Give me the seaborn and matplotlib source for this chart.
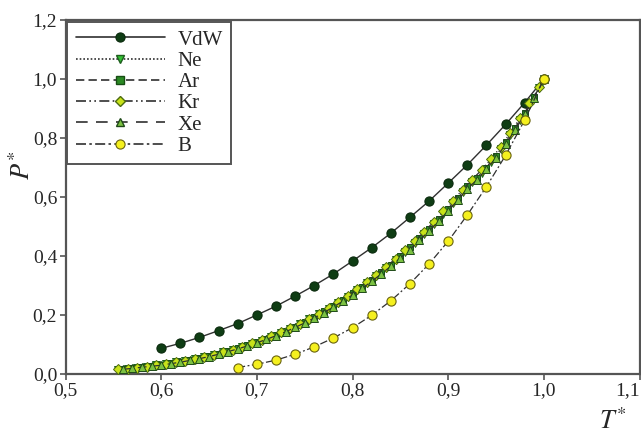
import numpy as np
import pandas as pd
import matplotlib
matplotlib.use("Agg")
import matplotlib.pyplot as plt
from matplotlib.lines import Line2D
from matplotlib.ticker import FuncFormatter
import seaborn as sns

# ---------------- data ----------------
vdw_T = [0.60, 0.62, 0.64, 0.66, 0.68, 0.70, 0.72, 0.74, 0.76, 0.78, 0.80,
         0.82, 0.84, 0.86, 0.88, 0.90, 0.92, 0.94, 0.96, 0.98, 1.00]
vdw_P = [0.087, 0.104, 0.124, 0.147, 0.171, 0.200, 0.230, 0.264, 0.300, 0.339, 0.383,
         0.428, 0.477, 0.531, 0.586, 0.647, 0.709, 0.776, 0.846, 0.920, 1.000]

half_T = [0.555, 0.565, 0.575, 0.585, 0.595, 0.605, 0.615, 0.625, 0.635, 0.645,
          0.655, 0.665, 0.675, 0.685, 0.695, 0.705, 0.715, 0.725, 0.735, 0.745,
          0.755, 0.765, 0.775, 0.785, 0.795, 0.805, 0.815, 0.825, 0.835, 0.845,
          0.855, 0.865, 0.875, 0.885, 0.895, 0.905, 0.915, 0.925, 0.935, 0.945,
          0.955, 0.965, 0.975, 0.985, 0.995, 1.000]
full_T = [0.56, 0.57, 0.58, 0.59, 0.60, 0.61, 0.62, 0.63, 0.64, 0.65,
          0.66, 0.67, 0.68, 0.69, 0.70, 0.71, 0.72, 0.73, 0.74, 0.75,
          0.76, 0.77, 0.78, 0.79, 0.80, 0.81, 0.82, 0.83, 0.84, 0.85,
          0.86, 0.87, 0.88, 0.89, 0.90, 0.91, 0.92, 0.93, 0.94, 0.95,
          0.96, 0.97, 0.98, 0.99, 1.00]

ne_P = [0.015, 0.018, 0.021, 0.025, 0.029, 0.034, 0.039, 0.044, 0.050, 0.057,
        0.065, 0.073, 0.082, 0.091, 0.102, 0.113, 0.126, 0.139, 0.153, 0.169,
        0.185, 0.202, 0.221, 0.241, 0.262, 0.284, 0.307, 0.332, 0.358, 0.385,
        0.414, 0.444, 0.476, 0.509, 0.543, 0.579, 0.617, 0.650, 0.682, 0.720,
        0.762, 0.810, 0.860, 0.912, 0.969, 1.000]
ar_P = [0.017, 0.020, 0.023, 0.027, 0.031, 0.036, 0.041, 0.047, 0.054, 0.061,
        0.069, 0.077, 0.087, 0.097, 0.108, 0.120, 0.132, 0.146, 0.161, 0.177,
        0.194, 0.212, 0.231, 0.251, 0.273, 0.295, 0.319, 0.345, 0.371, 0.399,
        0.429, 0.460, 0.492, 0.526, 0.561, 0.598, 0.636, 0.665, 0.700, 0.740,
        0.785, 0.835, 0.885, 0.940, 1.000]
kr_P = [0.016, 0.018, 0.022, 0.025, 0.029, 0.034, 0.039, 0.045, 0.051, 0.058,
        0.066, 0.074, 0.083, 0.093, 0.104, 0.115, 0.128, 0.141, 0.156, 0.171,
        0.188, 0.205, 0.224, 0.244, 0.266, 0.288, 0.312, 0.337, 0.363, 0.391,
        0.420, 0.451, 0.483, 0.516, 0.551, 0.587, 0.625, 0.659, 0.692, 0.729,
        0.771, 0.818, 0.868, 0.918, 0.972, 1.000]
xe_P = [0.016, 0.019, 0.023, 0.026, 0.030, 0.035, 0.040, 0.046, 0.052, 0.059,
        0.067, 0.076, 0.085, 0.095, 0.106, 0.117, 0.130, 0.143, 0.158, 0.173,
        0.190, 0.208, 0.227, 0.247, 0.268, 0.290, 0.314, 0.339, 0.365, 0.393,
        0.422, 0.453, 0.485, 0.518, 0.553, 0.589, 0.628, 0.658, 0.694, 0.733,
        0.778, 0.828, 0.880, 0.935, 1.000]

b_T = [0.68, 0.70, 0.72, 0.74, 0.76, 0.78, 0.80, 0.82, 0.84, 0.86,
       0.88, 0.90, 0.92, 0.94, 0.96, 0.98, 1.00]
b_P = [0.022, 0.033, 0.047, 0.067, 0.092, 0.122, 0.157, 0.199, 0.248, 0.306,
       0.373, 0.450, 0.539, 0.635, 0.741, 0.861, 1.000]

x_ticks = [0.5, 0.6, 0.7, 0.8, 0.9, 1.0, 1.1]
y_ticks = [0.0, 0.2, 0.4, 0.6, 0.8, 1.0, 1.2]
legend_labels = ["VdW", "Ne", "Ar", "Kr", "Xe", "B"]

# ---------------- style ----------------
sns.set_style("ticks")
plt.rcParams["font.family"] = ["Liberation Serif", "DejaVu Serif"]
plt.rcParams["mathtext.fontset"] = "stix"

fig = plt.figure(figsize=(6.41, 4.33), dpi=100)
L, R, B_, T_ = 65.5, 639.5, 374, 20
ax = fig.add_axes([L / 641, 1 - B_ / 433, (R - L) / 641, (B_ - T_) / 433])

line_col = "#303030"
vdw_style = dict(marker="o", markersize=6.6, markerfacecolor="#0f3d14",
                 markeredgecolor="#0a2a0d", markeredgewidth=0.8)
b_style = dict(marker="o", markersize=6.6, markerfacecolor="#f5f01e",
               markeredgecolor="#6a6410", markeredgewidth=0.8)
b_ls = (0, (6, 2, 1.5, 2))

series = [
    # label, T, P, marker, face, edge, linestyle, ms
    ("Ne", half_T, ne_P, "v", "#34c134", "#1d5e1d", (0, (1, 1.2)), 5.8),
    ("Ar", full_T, ar_P, "s", "#2b8a24", "#174d14", (0, (5, 2.5)), 5.0),
    ("Kr", half_T, kr_P, "D", "#c8e21a", "#4c6b10", (0, (6, 2, 1, 2, 1, 2)), 4.8),
    ("Xe", full_T, xe_P, "^", "#7cc242", "#1f4a18", (0, (7, 5)), 5.8),
]

df = pd.DataFrame({"T": vdw_T, "P": vdw_P})
sns.lineplot(data=df, x="T", y="P", ax=ax, color=line_col, lw=1.0,
             estimator=None, sort=False, zorder=3, **vdw_style)

for lab, T, P, mk, fc, ec, ls, ms in series:
    d = pd.DataFrame({"T": T, "P": P})
    sns.lineplot(data=d, x="T", y="P", ax=ax, color=line_col, lw=0.9,
                 linestyle=ls, estimator=None, sort=False, marker=mk,
                 markersize=ms, markerfacecolor=fc, markeredgecolor=ec,
                 markeredgewidth=0.7, zorder=4)

d = pd.DataFrame({"T": b_T, "P": b_P})
sns.lineplot(data=d, x="T", y="P", ax=ax, color=line_col, lw=0.9,
             linestyle=b_ls, estimator=None, sort=False, zorder=5, **b_style)

ax.set_xlim(0.5, 1.1)
ax.set_ylim(0.0, 1.2)
ax.set_xticks(x_ticks)
ax.set_yticks(y_ticks)
fmt = FuncFormatter(lambda v, p: f"{v:.1f}".replace(".", ","))
ax.xaxis.set_major_formatter(fmt)
ax.yaxis.set_major_formatter(fmt)
ax.tick_params(axis="both", direction="out", length=4, width=1.2,
               color="#555555", labelsize=14, pad=2)
for sp in ax.spines.values():
    sp.set_color("#555555")
    sp.set_linewidth(1.6)
    sp.set_visible(True)

fig.canvas.draw()
xt = ax.get_xticklabels()
xt[-1].set_horizontalalignment("right")

ax.set_ylabel("")
ax.set_xlabel("")
ax.text((22 - L) / (R - L), (B_ - 165) / (B_ - T_), r"$P^{*}$", fontsize=19,
        rotation=90, ha="center", va="center", transform=ax.transAxes)
ax.text((613 - L) / (R - L), (B_ - 421) / (B_ - T_), r"$T^{*}$", fontsize=19,
        ha="center", va="center", transform=ax.transAxes)

# legend
handles = [Line2D([], [], color=line_col, lw=1.2, **vdw_style)]
for lab, T, P, mk, fc, ec, ls, ms in series:
    handles.append(Line2D([], [], color=line_col, lw=1.2, linestyle=ls, marker=mk,
                          markersize=ms + 0.5, markerfacecolor=fc, markeredgecolor=ec))
handles.append(Line2D([], [], color=line_col, lw=1.2, linestyle=b_ls, **b_style))
leg = ax.legend(handles, legend_labels, loc="upper left",
                bbox_to_anchor=(0.003, 0.995), frameon=True, fancybox=False,
                fontsize=15, handlelength=4.3, handletextpad=0.6,
                labelspacing=0.08, borderpad=0.4, borderaxespad=0.0,
                edgecolor="#555555", framealpha=1)
leg.get_frame().set_linewidth(1.4)

fig.savefig("out.png", dpi=100)
